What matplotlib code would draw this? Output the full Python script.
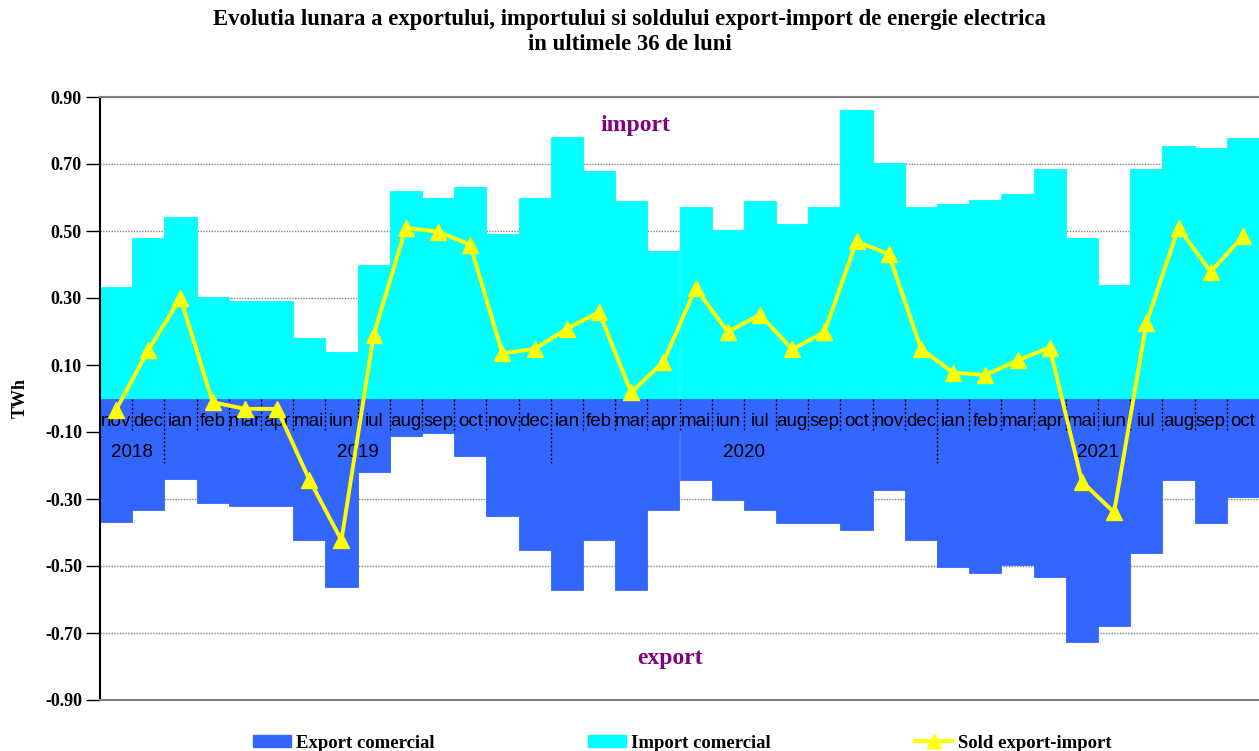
import numpy as np
import matplotlib
matplotlib.use('Agg')
import matplotlib.pyplot as plt
from matplotlib.lines import Line2D
from matplotlib.patches import Patch

plt.rcParams['axes.unicode_minus'] = False

# luni nov 2018 - oct 2021
months = ['nov', 'dec', 'ian', 'feb', 'mar', 'apr', 'mai', 'iun', 'iul', 'aug', 'sep', 'oct',
          'nov', 'dec', 'ian', 'feb', 'mar', 'apr', 'mai', 'iun', 'iul', 'aug', 'sep', 'oct',
          'nov', 'dec', 'ian', 'feb', 'mar', 'apr', 'mai', 'iun', 'iul', 'aug', 'sep', 'oct']
years = ['2018', '2019', '2020', '2021']
year_start = [0, 2, 14, 26]
year_end = [2, 14, 26, 36]

import_tw = [0.334, 0.478, 0.541, 0.302, 0.291, 0.291, 0.180, 0.139, 0.400, 0.620, 0.600, 0.631,
             0.491, 0.600, 0.780, 0.680, 0.590, 0.441, 0.571, 0.502, 0.590, 0.520, 0.571, 0.861,
             0.703, 0.571, 0.581, 0.592, 0.610, 0.685, 0.480, 0.340, 0.685, 0.754, 0.749, 0.777]
export_tw = [-0.368, -0.333, -0.241, -0.313, -0.322, -0.322, -0.422, -0.562, -0.220, -0.111, -0.102, -0.172,
             -0.352, -0.452, -0.572, -0.422, -0.572, -0.332, -0.242, -0.303, -0.332, -0.373, -0.373, -0.392,
             -0.272, -0.422, -0.504, -0.522, -0.496, -0.533, -0.728, -0.680, -0.460, -0.244, -0.371, -0.293]
sold_tw = [-0.034, 0.145, 0.300, -0.011, -0.031, -0.031, -0.242, -0.423, 0.190, 0.509, 0.498, 0.459,
           0.135, 0.148, 0.208, 0.258, 0.018, 0.109, 0.329, 0.199, 0.250, 0.147, 0.198, 0.469,
           0.431, 0.149, 0.077, 0.070, 0.114, 0.152, -0.248, -0.340, 0.225, 0.510, 0.378, 0.484]

x = np.arange(len(months))
serif = 'Liberation Serif'

fig = plt.figure(figsize=(12.59, 7.51), dpi=100)
ax = fig.add_axes([100 / 1259, 1 - 700 / 751, 1 - 100 / 1259, 603 / 751])

yt = np.arange(-0.9, 0.91, 0.2)
for v in yt:
    ax.axhline(v, color='#808080', lw=1, ls=(0, (1, 1)), zorder=0)

ax.bar(x, import_tw, width=1.0, color='#00FFFF', edgecolor='#00FFFF', lw=0.6, zorder=2)
ax.bar(x, export_tw, width=1.0, color='#3366FF', edgecolor='#3366FF', lw=0.6, zorder=2)

# separatoare luni / ani
for i in range(1, len(months)):
    bottom = -0.193 if i in year_start else -0.095
    ax.plot([i - 0.5, i - 0.5], [0, bottom], color='black', lw=1, ls=(0, (1.5, 1.5)), zorder=3)
for i, m in enumerate(months):
    ax.text(i, -0.068, m, ha='center', va='center', fontsize=13.5,
            family='Liberation Sans', zorder=4)
for y, s, e in zip(years, year_start, year_end):
    ax.text((s + e - 1) / 2, -0.16, y, ha='center', va='center', fontsize=13.5,
            family='Liberation Sans', zorder=4)

ax.plot(x, sold_tw, color='#FFFF00', lw=2.8, marker='^', ms=12, zorder=5)

ax.text(16.12, 0.816, 'import', color='#800080', fontsize=17, fontweight='bold',
        family=serif, ha='center', va='center')
ax.text(17.2, -0.775, 'export', color='#800080', fontsize=17, fontweight='bold',
        family=serif, ha='center', va='center')

ax.set_xlim(-0.5, 35.5)
ax.set_ylim(-0.9, 0.9)
ax.set_xticks([])
ax.set_yticks(yt)
ax.set_yticklabels(['%.2f' % v for v in yt], fontsize=13, fontweight='bold', family=serif)
ax.tick_params(axis='y', direction='out', length=10, width=1, pad=3)
ax.set_ylabel('TWh', fontsize=13, fontweight='bold', family=serif, labelpad=12)
ax.spines['right'].set_visible(False)
ax.spines['top'].set_color('#808080')
ax.spines['top'].set_linewidth(1.5)
ax.spines['bottom'].set_color('#808080')
ax.spines['bottom'].set_linewidth(1.5)
ax.spines['left'].set_color('black')
ax.spines['left'].set_linewidth(1.5)

fig.text(0.5, 1 - 20 / 751, 'Evolutia lunara a exportului, importului si soldului export-import de energie electrica',
         ha='center', va='center', fontsize=16.4, fontweight='bold', family=serif)
fig.text(0.5, 1 - 45 / 751, 'in ultimele 36 de luni',
         ha='center', va='center', fontsize=16.4, fontweight='bold', family=serif)

handles = [Patch(color='#3366FF'), Patch(color='#00FFFF'),
           Line2D([], [], color='#FFFF00', lw=2.8, marker='^', ms=10)]
labels = ['Export comercial', 'Import comercial', 'Sold export-import']
left_px = [253, 588, 915]
for h, l, px in zip(handles, labels, left_px):
    fig.legend([h], [l], loc='center left', bbox_to_anchor=(px / 1259, 1 - 743 / 751),
               frameon=False, borderpad=0, borderaxespad=0, handlelength=2.0,
               handleheight=0.55, handletextpad=0.27,
               prop={'family': serif, 'weight': 'bold', 'size': 13.5})

fig.savefig('out.png', dpi=100)
